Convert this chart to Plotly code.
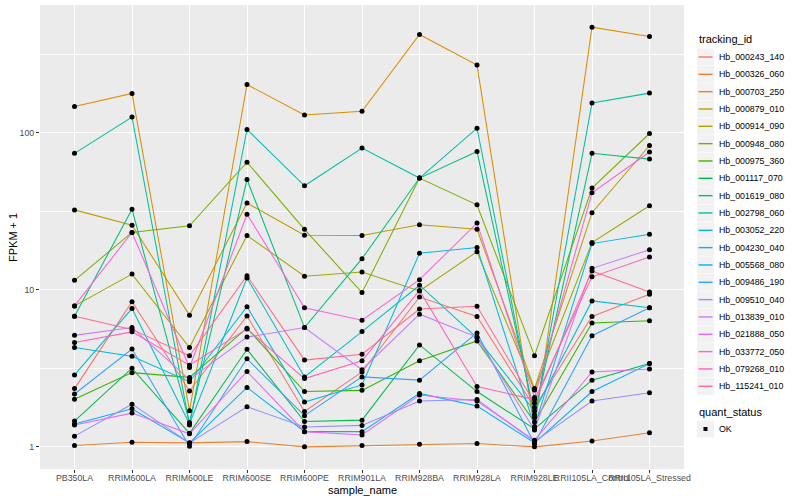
import plotly.graph_objects as go

samples = ["PB350LA", "RRIM600LA", "RRIM600LE", "RRIM600SE", "RRIM600PE", "RRIM901LA",
           "RRIM928BA", "RRIM928LA", "RRIM928LE", "RRII105LA_Control", "RRII105LA_Stressed"]

tracking_ids = ["Hb_000243_140", "Hb_000326_060", "Hb_000703_250", "Hb_000879_010",
                "Hb_000914_090", "Hb_000948_080", "Hb_000975_360", "Hb_001117_070",
                "Hb_001619_080", "Hb_002798_060", "Hb_003052_220", "Hb_004230_040",
                "Hb_005568_080", "Hb_009486_190", "Hb_009510_040", "Hb_013839_010",
                "Hb_021888_050", "Hb_033772_050", "Hb_079268_010", "Hb_115241_010"]

colors = ["#F8766D", "#EA8331", "#D89000", "#C09B00", "#A3A500", "#7CAE00", "#39B600",
          "#00BB4E", "#00BF7D", "#00C1A3", "#00BFC4", "#00BAE0", "#00B0F6", "#35A2FF",
          "#9590FF", "#C77CFF", "#E76BF3", "#FA62DB", "#FF62BC", "#FF6C91"]

# FPKM + 1 values per sample (order of `samples`)
hb_000243_140 = [2.35, 8.4, 2.27, 6.82, 1.68, 3.0, 9.0, 6.77, 1.78, 6.77, 9.38]
hb_000326_060 = [1.02, 1.07, 1.06, 1.08, 1.0, 1.02, 1.04, 1.05, 1.0, 1.09, 1.23]
hb_000703_250 = [147, 178, 1.7, 203, 130, 137, 423, 270, 1.3, 471, 410]
hb_000879_010 = [32.3, 25.8, 6.9, 35.7, 22.3, 22.2, 26, 24.3, 2.35, 31, 83]
hb_000914_090 = [7.9, 12.6, 4.29, 22.2, 12.2, 13.0, 9.84, 17.5, 2.3, 20, 34.3]
hb_000948_080 = [11.5, 23.2, 25.6, 65, 24.3, 9.6, 51.5, 34.8, 3.81, 44.5, 99]
hb_000975_360 = [2.01, 2.97, 2.77, 5.7, 2.25, 2.29, 3.53, 4.73, 1.44, 6.14, 6.35]
hb_001117_070 = [1.46, 3.17, 1.22, 4.18, 1.45, 1.48, 4.46, 2.25, 1.3, 2.66, 3.39]
hb_001619_080 = [6.8, 32.6, 1.43, 50.4, 5.75, 15.8, 51.5, 76, 1.6, 74, 68]
hb_002798_060 = [74, 126, 1.38, 105, 46, 80, 51.5, 107, 1.54, 155, 179]
hb_003052_220 = [2.87, 7.6, 1.4, 11.9, 2.79, 5.42, 10.7, 4.94, 1.69, 8.5, 7.68]
hb_004230_040 = [4.29, 3.78, 2.6, 7.8, 1.93, 2.48, 17.1, 18.6, 1.35, 19.7, 22.6]
hb_005568_080 = [1.4, 1.75, 1.06, 2.39, 1.25, 1.25, 2.19, 1.82, 1.06, 2.25, 3.39]
hb_009486_190 = [2.17, 4.2, 1.01, 3.64, 1.58, 2.79, 2.66, 5.32, 1.05, 5.1, 7.68]
hb_009510_040 = [1.17, 1.87, 1.06, 1.8, 1.34, 1.37, 1.96, 2.0, 1.08, 1.96, 2.21]
hb_013839_010 = [5.13, 5.75, 2.68, 5.0, 5.75, 3.1, 7.0, 5.0, 1.28, 13.7, 18.0]
hb_021888_050 = [1.38, 1.64, 1.21, 3.02, 1.25, 1.19, 2.14, 1.96, 1.1, 3.0, 3.13]
hb_033772_050 = [7.9, 23.2, 3.2, 30.3, 7.7, 6.4, 11.6, 26.6, 2.06, 41.5, 75.5]
hb_079268_010 = [4.62, 5.4, 3.31, 5.64, 2.72, 3.53, 9.9, 2.42, 2.0, 12.1, 16.2]
hb_115241_010 = [6.8, 5.6, 3.8, 12.3, 3.57, 3.89, 7.54, 7.87, 1.9, 13.2, 9.7]

series = [hb_000243_140, hb_000326_060, hb_000703_250, hb_000879_010, hb_000914_090,
          hb_000948_080, hb_000975_360, hb_001117_070, hb_001619_080, hb_002798_060,
          hb_003052_220, hb_004230_040, hb_005568_080, hb_009486_190, hb_009510_040,
          hb_013839_010, hb_021888_050, hb_033772_050, hb_079268_010, hb_115241_010]

quant_status = ["OK"]

W, H = 800, 500
ML, MR, MT, MB = 40, 116, 5, 31
PW, PH = W - ML - MR, H - MT - MB
FONT = "Liberation Sans, Arial, sans-serif"


def px(x):
    return (x - ML) / PW


def py(y):
    return (H - MB - y) / PH


fig = go.Figure()
for name, vals, col in zip(tracking_ids, series, colors):
    fig.add_trace(go.Scatter(x=samples, y=vals, mode="lines", name=name,
                             line=dict(color=col, width=1.05), showlegend=False))

all_x, all_y = [], []
for vals in series:
    all_x += samples
    all_y += vals
fig.add_trace(go.Scatter(x=all_x, y=all_y, mode="markers", showlegend=False,
                         marker=dict(color="black", size=5, symbol="circle")))

shapes, annotations = [], []
# axis titles
annotations.append(dict(x=px(362), y=py(489.5), xref="paper", yref="paper", text="sample_name",
                        showarrow=False, xanchor="center", yanchor="middle",
                        font=dict(size=11, color="black", family=FONT)))
annotations.append(dict(x=px(13), y=py(237), xref="paper", yref="paper", text="FPKM + 1",
                        showarrow=False, xanchor="center", yanchor="middle", textangle=-90,
                        font=dict(size=11, color="black", family=FONT)))
# legend: tracking_id
annotations.append(dict(x=px(697), y=py(39), xref="paper", yref="paper", text="tracking_id",
                        showarrow=False, xanchor="left", yanchor="middle",
                        font=dict(size=11, color="black", family=FONT)))
for i, (name, col) in enumerate(zip(tracking_ids, colors)):
    yc = 57 + i * 17.33
    shapes.append(dict(type="rect", xref="paper", yref="paper", x0=px(697), x1=px(714),
                       y0=py(yc - 8.4), y1=py(yc + 8.4), fillcolor="#F2F2F2",
                       line=dict(width=0), layer="above"))
    shapes.append(dict(type="line", xref="paper", yref="paper", x0=px(698.5), x1=px(712.5),
                       y0=py(yc), y1=py(yc), line=dict(color=col, width=1.4), layer="above"))
    annotations.append(dict(x=px(717), y=py(yc), xref="paper", yref="paper", text=name,
                            showarrow=False, xanchor="left", yanchor="middle",
                            font=dict(size=8.8, color="black", family=FONT)))
# legend: quant_status
annotations.append(dict(x=px(697), y=py(412), xref="paper", yref="paper", text="quant_status",
                        showarrow=False, xanchor="left", yanchor="middle",
                        font=dict(size=11, color="black", family=FONT)))
for j, q in enumerate(quant_status):
    yc = 429 + j * 17.33
    shapes.append(dict(type="rect", xref="paper", yref="paper", x0=px(697), x1=px(714),
                       y0=py(yc - 8.4), y1=py(yc + 8.4), fillcolor="#F2F2F2",
                       line=dict(width=0), layer="above"))
    shapes.append(dict(type="rect", xref="paper", yref="paper", x0=px(703.5), x1=px(707.5),
                       y0=py(yc - 2), y1=py(yc + 2), fillcolor="black",
                       line=dict(width=0), layer="above"))
    annotations.append(dict(x=px(717), y=py(yc), xref="paper", yref="paper", text=q,
                            showarrow=False, xanchor="left", yanchor="middle",
                            font=dict(size=8.8, color="black", family=FONT)))

fig.update_layout(
    width=W, height=H,
    margin=dict(l=ML, r=MR, t=MT, b=MB, pad=0),
    paper_bgcolor="white", plot_bgcolor="#EBEBEB",
    font=dict(family=FONT, color="black"),
    showlegend=False,
    shapes=shapes, annotations=annotations,
    xaxis=dict(type="category", categoryorder="array", categoryarray=samples,
               range=[-0.6, len(samples) - 0.4], showgrid=True, gridcolor="white",
               gridwidth=1.07, zeroline=False, showline=False, ticks="outside",
               ticklen=3, tickwidth=1.07, tickcolor="#333333", tickangle=0,
               ticklabelstandoff=-3,
               tickfont=dict(size=8.8, color="#4D4D4D", family=FONT)),
    yaxis=dict(type="log", range=[-0.141, 2.814], tickvals=[1, 10, 100],
               ticktext=["1", "10", "100"], showgrid=True, gridcolor="white",
               gridwidth=1.07, zeroline=False, showline=False, ticks="outside",
               ticklen=3, tickwidth=1.07, tickcolor="#333333",
               tickfont=dict(size=8.8, color="#4D4D4D", family=FONT),
               minor=dict(tickvals=[10 ** 0.5, 10 ** 1.5, 10 ** 2.5], showgrid=True,
                          gridcolor="white", gridwidth=0.55, ticks="")),
)

fig.write_html("out.html", config={"displayModeBar": False},
               post_script="document.body.style.margin='0';")
